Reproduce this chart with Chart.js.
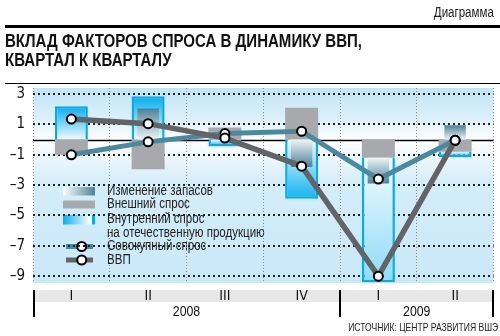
<!DOCTYPE html>
<html><head><meta charset="utf-8">
<script src="https://cdn.jsdelivr.net/npm/chart.js@4/dist/chart.umd.min.js"></script>
<style>
html,body{margin:0;padding:0;background:#fff;}
#wrap{position:relative;width:500px;height:336px;overflow:hidden;font-family:"Liberation Sans",Arial,sans-serif;}
canvas{position:absolute;left:0;top:0;}
.t{position:absolute;white-space:nowrap;color:#111;}
.rule{position:absolute;left:5px;right:0;background:#000;}
</style></head><body>
<div id="wrap">
<canvas id="c" width="500" height="336"></canvas>
<div class="t" id="hdr" data-w="60" style="right:6px;top:4px;font-size:14px;line-height:16px;color:#222;transform-origin:right center">Диаграмма</div>
<div class="rule" style="top:24.5px;height:3px"></div>
<div class="t" id="title" style="left:5px;top:30.5px;font-size:19px;font-weight:bold;line-height:19.5px;transform-origin:left top"><span id="tl1">ВКЛАД ФАКТОРОВ СПРОСА В ДИНАМИКУ ВВП,</span><br><span>КВАРТАЛ К КВАРТАЛУ</span></div>
<div class="rule" style="top:82.5px;height:1.5px"></div>
<div class="t" id="src" data-w="150" style="right:2px;top:321px;font-size:10.5px;line-height:12px;color:#222;transform-origin:right center">ИСТОЧНИК: ЦЕНТР РАЗВИТИЯ ВШЭ</div>
</div>
<script>
const categories = ['I', 'II', 'III', 'IV', 'I', 'II'];
const yearLabels = ['2008', '2009'];
const yearQuarterCounts = [4, 2];
const stocks    = [0, 2.05, 0, -1.8, -1.7, 0.95];
const external  = [-1.0, -1.95, 0.8, 2.1, -1.2, -0.8];
const domestic  = [2.2, 2.85, -0.45, -3.9, -8.2, -0.35];
const aggregate = [-1.0, -0.15, 0.4, 0.55, -2.6, -0.05];
const gdp       = [1.35, 1.05, 0.1, -1.75, -9.0, -0.05];
const yTicks = [3, 1, -1, -3, -5, -7, -9];
const legendLabels = ['Изменение запасов', 'Внешний спрос', 'Внутренний спрос', 'на отечественную продукцию', 'Совокупный спрос', 'ВВП'];

// condense HTML text to the reference widths
(function () {
  const t1 = document.getElementById('tl1');
  document.getElementById('title').style.transform = `scaleX(${357 / t1.getBoundingClientRect().width})`;
  ['hdr', 'src'].forEach(id => {
    const el = document.getElementById(id);
    el.style.transform = `scaleX(${(+el.dataset.w) / el.getBoundingClientRect().width})`;
  });
})();

const TICKFONT = '"DejaVu Sans Condensed","Liberation Sans",sans-serif';
const CFONT = '"Liberation Sans",Arial,sans-serif';
const CYAN = '#00aeef', GRAY = '#a7a9ac', TEAL = '#4b89a1', DARK = '#636466', STOCK = '#4d8197';

function baseOf(i, own, other) {
  return (Math.sign(own[i]) === Math.sign(other[i]) && other[i] !== 0) ? other[i] : 0;
}
function barGradient(ctx, own, other, c0, c1fn) {
  const chart = ctx.chart;
  if (!chart.chartArea) return null;
  const i = ctx.dataIndex;
  const b = baseOf(i, own, other);
  const y = chart.scales.y;
  const p0 = y.getPixelForValue(b), p1 = y.getPixelForValue(b + own[i]);
  const len = Math.abs(p1 - p0);
  const c1 = c1fn(len);
  if (len < 1) return c1;
  const g = chart.ctx.createLinearGradient(0, p0, 0, p1);
  g.addColorStop(0, c0);
  g.addColorStop(1, c1);
  return g;
}
function cyanEnd(len) {
  const t = Math.min(1, 55 / Math.max(len, 1));
  const r = Math.round(255 - 255 * t), g = Math.round(255 - 81 * t), b = Math.round(255 - 16 * t);
  return `rgb(${r},${g},${b})`;
}

function dot(ctx, x, y) {
  ctx.beginPath(); ctx.arc(x, y, 4.5, 0, Math.PI * 2);
  ctx.fillStyle = '#fff'; ctx.fill();
  ctx.lineWidth = 2; ctx.strokeStyle = '#000'; ctx.stroke();
}

function condensedText(ctx, text, x, y, k) {
  ctx.save(); ctx.translate(x, y); ctx.scale(k, 1); ctx.fillText(text, 0, 0); ctx.restore();
}

function drawLegend(ctx) {
  const sx = 63, sw = 32, tx = 107;
  let g = ctx.createLinearGradient(sx, 0, sx + sw, 0);
  g.addColorStop(0, '#ffffff'); g.addColorStop(1, STOCK);
  ctx.fillStyle = g; ctx.fillRect(sx, 187, sw, 8.5);
  ctx.fillStyle = GRAY; ctx.fillRect(sx, 200.5, sw, 8);
  g = ctx.createLinearGradient(sx, 0, sx + sw, 0);
  g.addColorStop(0, CYAN); g.addColorStop(0.85, '#ffffff');
  ctx.fillStyle = g; ctx.fillRect(sx, 215, sw, 9.5);
  ctx.fillStyle = CYAN; ctx.fillRect(sx + sw - 3, 215, 3, 9.5);
  [[TEAL, 246.5], [DARK, 260]].forEach(([c, y]) => {
    ctx.beginPath(); ctx.moveTo(66, y); ctx.lineTo(93, y);
    ctx.lineWidth = 5; ctx.strokeStyle = c; ctx.stroke();
    dot(ctx, 81.7, y);
  });
  ctx.fillStyle = '#222';
  ctx.font = '14px ' + CFONT;
  ctx.textAlign = 'left'; ctx.textBaseline = 'middle';
  const k = 106 / ctx.measureText(legendLabels[0]).width;
  const ys = [191, 204.5, 219.5, 233, 246.5, 260];
  legendLabels.forEach((t, i) => condensedText(ctx, t, tx, ys[i], k));
}

const decor = {
  id: 'decor',
  beforeDraw(chart) {
    const {ctx, chartArea: a, scales: {y}} = chart;
    ctx.save();
    const g = ctx.createLinearGradient(0, a.top, 0, a.bottom);
    const z = (y.getPixelForValue(0) - a.top) / (a.bottom - a.top);
    g.addColorStop(0, '#c3e5f7');
    g.addColorStop(z * 0.6, '#dcf0fa');
    g.addColorStop(z, '#ffffff');
    g.addColorStop(Math.min(1, z + 0.22), '#d4edf9');
    g.addColorStop(1, '#c9e8f8');
    ctx.fillStyle = g;
    ctx.fillRect(a.left, a.top, a.right - a.left, a.bottom - a.top);
    ctx.fillStyle = '#e7e7e7';
    ctx.fillRect(a.left, a.bottom + 7, a.right - a.left, 12);
    drawLegend(ctx);
    ctx.restore();
  },
  beforeDatasetsDraw(chart) {
    const {ctx, chartArea: a, scales: {y}} = chart;
    const y0 = Math.round(y.getPixelForValue(0)) + 0.5;
    ctx.save();
    ctx.beginPath(); ctx.moveTo(a.left, y0); ctx.lineTo(a.right, y0);
    ctx.lineWidth = 1.3; ctx.strokeStyle = '#000'; ctx.stroke();
    ctx.restore();
  },
  afterDraw(chart) {
    const {ctx, chartArea: a, scales: {x}} = chart;
    ctx.save();
    const bounds = [a.left + 1];
    let idx = 0;
    const centers = [];
    const half = (x.getPixelForValue(1) - x.getPixelForValue(0)) / 2;
    yearQuarterCounts.forEach((n) => {
      const first = x.getPixelForValue(idx), last = x.getPixelForValue(idx + n - 1);
      centers.push((first + last) / 2);
      bounds.push(Math.min(last + half, a.right - 1));
      idx += n;
    });
    ctx.fillStyle = '#000';
    bounds.forEach(bx => ctx.fillRect(Math.round(bx) - 1, a.bottom + 7, 2, 27));
    ctx.font = '15px ' + CFONT;
    ctx.fillStyle = '#111'; ctx.textAlign = 'center'; ctx.textBaseline = 'middle';
    yearLabels.forEach((t, i) => condensedText(ctx, t, centers[i], a.bottom + 28.5, 0.82));
    ctx.restore();
  }
};

new Chart(document.getElementById('c'), {
  data: {
    labels: categories,
    datasets: [
      {type: 'line', label: 'ВВП', data: gdp, borderColor: DARK, borderWidth: 5.5,
       pointRadius: 4.5, pointBorderWidth: 2, pointBackgroundColor: '#fff', pointBorderColor: '#000', order: 0, tension: 0},
      {type: 'line', label: 'Совокупный спрос', data: aggregate, borderColor: TEAL, borderWidth: 5,
       pointRadius: 4.5, pointBorderWidth: 2, pointBackgroundColor: '#fff', pointBorderColor: '#000', order: 1, tension: 0},
      {type: 'bar', label: '', data: external, stack: 's', barPercentage: 0.28,
       backgroundColor: 'rgba(0,0,0,0)', order: 1.5},
      {type: 'bar', label: 'Изменение запасов', data: stocks, stack: 's', barPercentage: 0.28,
       backgroundColor: ctx => barGradient(ctx, stocks, external, '#eef4f6', () => STOCK), order: 2},
      {type: 'bar', label: 'Внешний спрос', data: external, stack: 'm', barPercentage: 0.43,
       backgroundColor: GRAY, order: 3},
      {type: 'bar', label: 'Внутренний спрос', data: domestic, stack: 'm', barPercentage: 0.43,
       backgroundColor: ctx => barGradient(ctx, domestic, external, '#f2fafe', cyanEnd),
       borderColor: CYAN, borderWidth: 2.5, borderSkipped: 'start', order: 4}
    ]
  },
  options: {
    responsive: false,
    devicePixelRatio: 1,
    animation: false,
    events: [],
    layout: {padding: {top: 88, left: 0, right: 0, bottom: 0}},
    datasets: {bar: {grouped: false, categoryPercentage: 1}},
    plugins: {legend: {display: false}, tooltip: {enabled: false}, title: {display: false}},
    scales: {
      x: {
        type: 'category', offset: true,
        grid: {offset: true, drawTicks: false, color: '#8c8c8c', lineWidth: 1},
        border: {display: false, dash: [1, 2]},
        ticks: {color: '#111', font: {family: TICKFONT, size: 14}, padding: 5},
        afterFit: s => { s.height = 53; }
      },
      y: {
        min: -9.45, max: 3.4,
        afterBuildTicks: s => { s.ticks = yTicks.map(v => ({value: v})); },
        grid: {drawTicks: false, color: '#222', lineWidth: 2},
        border: {display: false, dash: [2, 3]},
        ticks: {color: '#111', font: {family: TICKFONT, size: 15}, padding: 8,
                callback: v => v < 0 ? '–' + Math.abs(v) : String(v)},
        afterFit: s => { s.width = 33; }
      }
    }
  },
  plugins: [decor]
});
</script>
</body></html>
